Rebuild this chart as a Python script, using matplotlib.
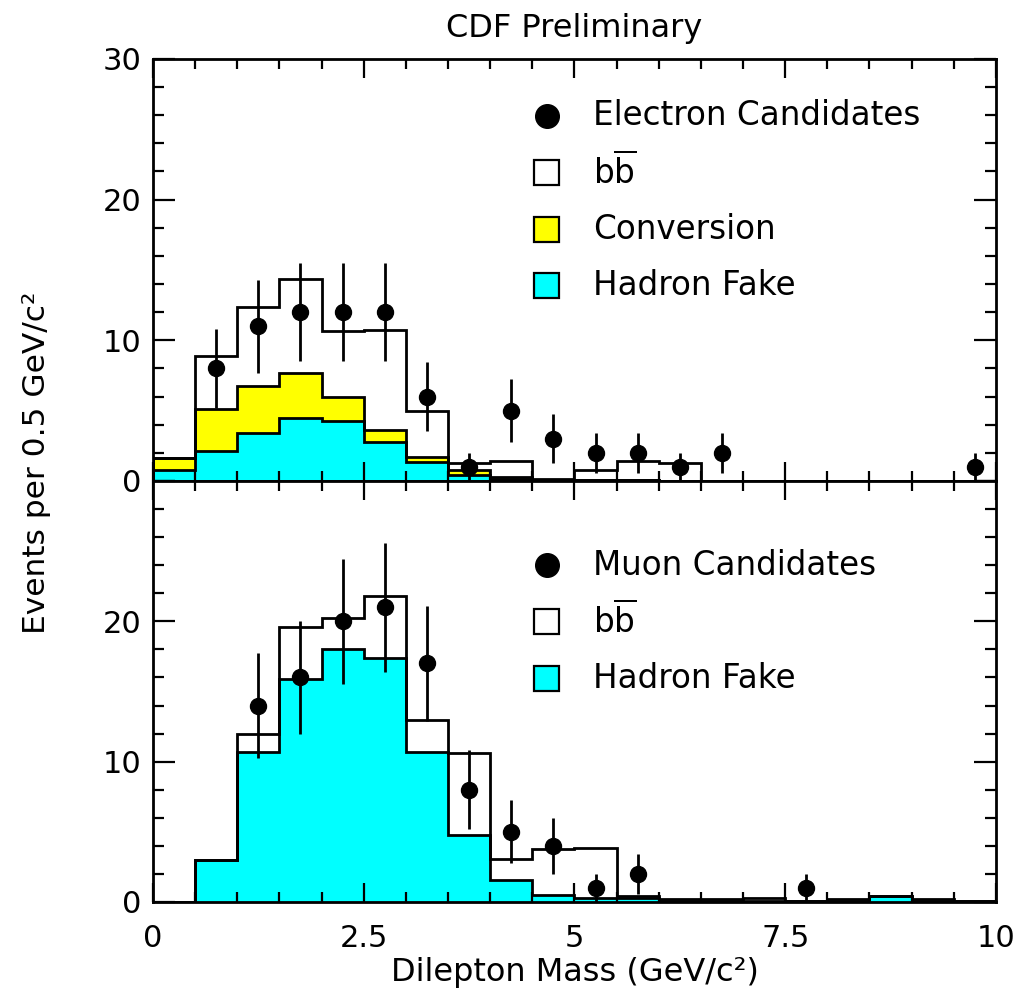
import numpy as np
import matplotlib
matplotlib.use("Agg")
import matplotlib.pyplot as plt
from matplotlib.patches import Rectangle
from matplotlib.ticker import MultipleLocator

# 0.5 GeV/c^2 bins from 0 to 10
edges = np.arange(0, 10.01, 0.5)

# electron channel: stacked components per bin
e_hadron = [0.8, 2.1, 3.4, 4.5, 4.25, 2.8, 1.35, 0.45, 0.15, 0.05,
            0.05, 0.05, 0.03, 0.02, 0.02, 0.02, 0.02, 0.02, 0.02, 0.02]
e_conv = [0.8, 3.0, 3.35, 3.2, 1.7, 0.85, 0.35, 0.3, 0.1, 0.05,
          0.05, 0.0, 0.0, 0.0, 0.0, 0.0, 0.0, 0.0, 0.0, 0.0]
e_bb = [0.0, 3.75, 5.65, 6.65, 4.7, 7.05, 3.25, 0.55, 1.15, 0.05,
        0.65, 1.35, 1.27, 0.0, 0.0, 0.0, 0.0, 0.0, 0.0, 0.0]

# electron candidates
e_mass = [0.75, 1.25, 1.75, 2.25, 2.75, 3.25, 3.75, 4.25, 4.75, 5.25,
          5.75, 6.25, 6.75, 9.75]
e_count = [8, 11, 12, 12, 12, 6, 1, 5, 3, 2, 2, 1, 2, 1]

# muon channel
m_hadron = [0.0, 3.0, 10.7, 15.9, 18.0, 17.4, 10.7, 4.8, 1.6, 0.5,
            0.3, 0.25, 0.1, 0.1, 0.1, 0.05, 0.1, 0.4, 0.1, 0.05]
m_bb = [0.0, 0.0, 1.3, 3.7, 2.25, 4.4, 2.3, 5.8, 1.45, 3.25,
        3.55, 0.2, 0.08, 0.08, 0.15, 0.05, 0.08, 0.05, 0.08, 0.05]

m_mass = [1.25, 1.75, 2.25, 2.75, 3.25, 3.75, 4.25, 4.75, 5.25, 5.75, 7.75]
m_count = [14, 16, 20, 21, 17, 8, 5, 4, 1, 2, 1]

YELLOW = "#ffff00"
CYAN = "#00ffff"
LW = 2.0
TICK_FS = 22
LEG_FS = 23.5

plt.rcParams["font.family"] = "DejaVu Sans"
plt.rcParams["mathtext.fontset"] = "dejavusans"

fig = plt.figure(figsize=(10.17, 9.96), dpi=100)
ax1 = fig.add_axes([0.1504, 0.5171, 0.8289, 0.4237])
ax2 = fig.add_axes([0.1504, 0.0944, 0.8289, 0.4227])


def style_axis(ax):
    ax.set_xlim(0, 10)
    ax.set_ylim(0, 30)
    ax.xaxis.set_major_locator(MultipleLocator(2.5))
    ax.xaxis.set_minor_locator(MultipleLocator(0.5))
    ax.yaxis.set_major_locator(MultipleLocator(10))
    ax.yaxis.set_minor_locator(MultipleLocator(2))
    ax.tick_params(axis="both", which="both", direction="in",
                   top=True, right=True, width=1.6, labelsize=TICK_FS)
    ax.tick_params(axis="x", which="major", length=14, pad=16)
    ax.tick_params(axis="x", which="minor", length=7)
    ax.tick_params(axis="y", which="major", length=16, pad=8)
    ax.tick_params(axis="y", which="minor", length=8)
    for s in ax.spines.values():
        s.set_linewidth(2.0)


def draw_stack(ax, comps, colors):
    base = np.zeros(len(edges) - 1)
    tops = []
    for vals, col in zip(comps, colors):
        top = base + np.asarray(vals)
        if col is not None:
            ax.stairs(top, edges, baseline=base, fill=True, color=col,
                      lw=0, zorder=1)
        tops.append(top)
        base = top
    for top in tops:
        ax.stairs(top, edges, baseline=0, color="k", lw=LW, zorder=2)


def draw_points(ax, x, n):
    n = np.asarray(n, dtype=float)
    ax.errorbar(x, n, yerr=np.sqrt(n), fmt="o", color="k", ms=11.5,
                elinewidth=2.0, capsize=0, zorder=3)


def legend_rows(ax, rows):
    # rows: (y in axes fraction, kind, facecolor, label)
    for y, kind, fc, label in rows:
        if kind == "point":
            ax.plot([0.467], [y], "o", color="k", ms=17,
                    transform=ax.transAxes, clip_on=False, zorder=4)
        else:
            ax.add_patch(Rectangle((0.4525, y - 0.0296), 0.0297, 0.0592,
                                   transform=ax.transAxes, fc=fc, ec="k",
                                   lw=1.6, zorder=4))
        ax.text(0.522, y, label, transform=ax.transAxes, fontsize=LEG_FS,
                va="center", ha="left")


BB_LABEL = r"b$\overline{\mathregular{b}}$"

# electrons
style_axis(ax1)
draw_stack(ax1, [e_hadron, e_conv, e_bb], [CYAN, YELLOW, None])
draw_points(ax1, e_mass, e_count)
ax1.set_xticklabels([])
legend_rows(ax1, [(0.865, "point", None, "Electron Candidates"),
                  (0.732, "box", "white", BB_LABEL),
                  (0.597, "box", YELLOW, "Conversion"),
                  (0.464, "box", CYAN, "Hadron Fake")])

# muons
style_axis(ax2)
draw_stack(ax2, [m_hadron, m_bb], [CYAN, None])
draw_points(ax2, m_mass, m_count)
ax2.set_yticks([0, 10, 20, 30], ["0", "10", "20", ""])
ax2.set_xticks([0, 2.5, 5, 7.5, 10], ["0", "2.5", "5", "7.5", "10"])
legend_rows(ax2, [(0.800, "point", None, "Muon Candidates"),
                  (0.667, "box", "white", BB_LABEL),
                  (0.530, "box", CYAN, "Hadron Fake")])

ax2.set_xlabel("Dilepton Mass (GeV/c²)", fontsize=23, labelpad=3)
fig.text(0.036, 0.535, "Events per 0.5 GeV/c²", rotation=90,
         fontsize=22.5, ha="center", va="center")
fig.text(0.565, 0.971, "CDF Preliminary", fontsize=23,
         ha="center", va="center")

fig.savefig("out.png", dpi=100)
